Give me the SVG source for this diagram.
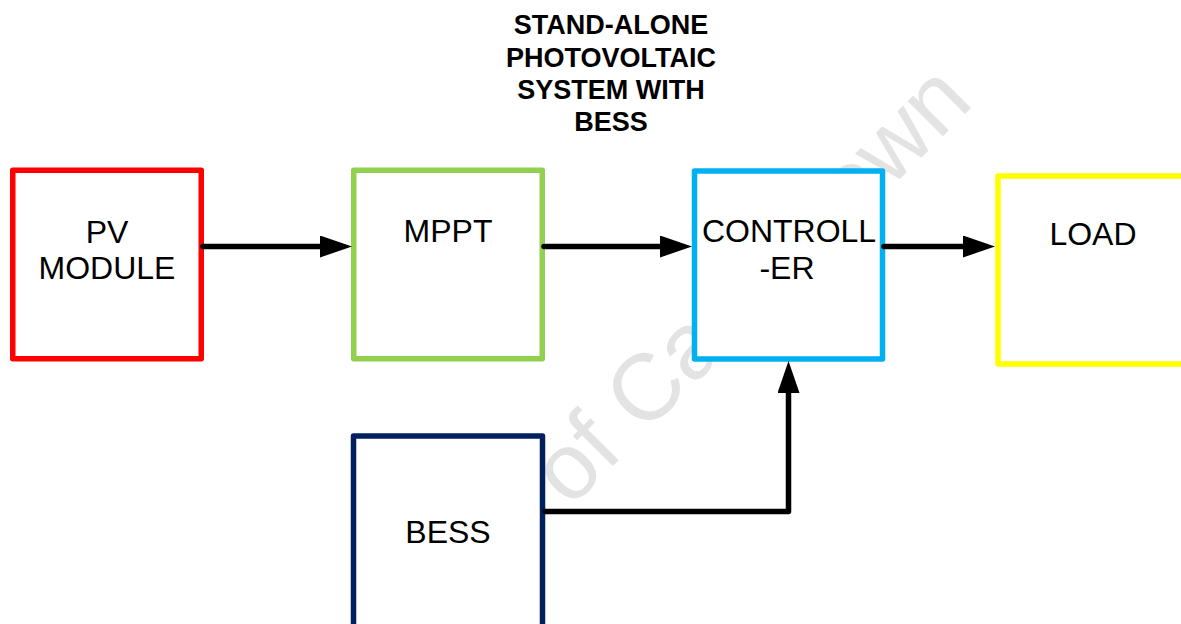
<svg xmlns="http://www.w3.org/2000/svg" width="1181" height="624" viewBox="0 0 1181 624">
  <style>
    .title { font-family: "Liberation Sans", Arial, sans-serif; font-weight: bold; font-size: 27px; fill: #000; text-anchor: middle; }
    .label { font-family: "Liberation Sans", Arial, sans-serif; font-size: 32px; fill: #000; text-anchor: middle; }
    .box { fill: #fff; stroke-width: 5.5; stroke-linejoin: round; }
    .wire { fill: none; stroke: #000; stroke-width: 5.5; stroke-linecap: round; stroke-linejoin: round; }
    .mark { font-family: "Liberation Sans", Arial, sans-serif; font-size: 94px; fill: #e3e3e3; }
  </style>
  <defs>
    <marker id="arrow" viewBox="0 0 32 22" markerWidth="32" markerHeight="22" refX="1" refY="11" orient="auto" markerUnits="userSpaceOnUse">
      <path d="M0,0 L32,11 L0,22 z" fill="#000"/>
    </marker>
  </defs>

  <rect width="1181" height="624" fill="#fff"/>

  <!-- background watermark, partly covered by the boxes -->
  <text class="mark" transform="translate(570,509) rotate(-45)">of Cape Town</text>

  <g id="title">
    <text class="title" x="611" y="34">STAND-ALONE</text>
    <text class="title" x="611" y="67">PHOTOVOLTAIC</text>
    <text class="title" x="611" y="99">SYSTEM WITH</text>
    <text class="title" x="611" y="131">BESS</text>
  </g>

  <g id="pv-module">
    <rect class="box" x="12.75" y="170.25" width="188.5" height="188.5" stroke="#ff0000"/>
    <text class="label" x="107" y="243">PV</text>
    <text class="label" x="107" y="279">MODULE</text>
  </g>

  <g id="mppt">
    <rect class="box" x="353.75" y="170.25" width="188.5" height="188.5" stroke="#92d050"/>
    <text class="label" x="448" y="242">MPPT</text>
  </g>

  <g id="controller">
    <rect class="box" x="694.5" y="171" width="188" height="188" stroke="#00b0f0"/>
    <text class="label" x="789" y="242">CONTROLL</text>
    <text class="label" x="787" y="279">-ER</text>
  </g>

  <g id="load">
    <rect class="box" x="998" y="176" width="200" height="188" stroke="#ffff00"/>
    <text class="label" x="1093" y="245">LOAD</text>
  </g>

  <g id="bess">
    <rect class="box" x="353.5" y="436" width="189" height="200" stroke="#002060"/>
    <text class="label" x="448" y="543">BESS</text>
  </g>

  <g id="connectors">
    <path class="wire" d="M203,246.5 H321" marker-end="url(#arrow)"/>
    <path class="wire" d="M544,246.5 H661" marker-end="url(#arrow)"/>
    <path class="wire" d="M884,246.5 H964" marker-end="url(#arrow)"/>
    <path class="wire" d="M545,511.5 H788.5 V392" marker-end="url(#arrow)"/>
  </g>
</svg>
